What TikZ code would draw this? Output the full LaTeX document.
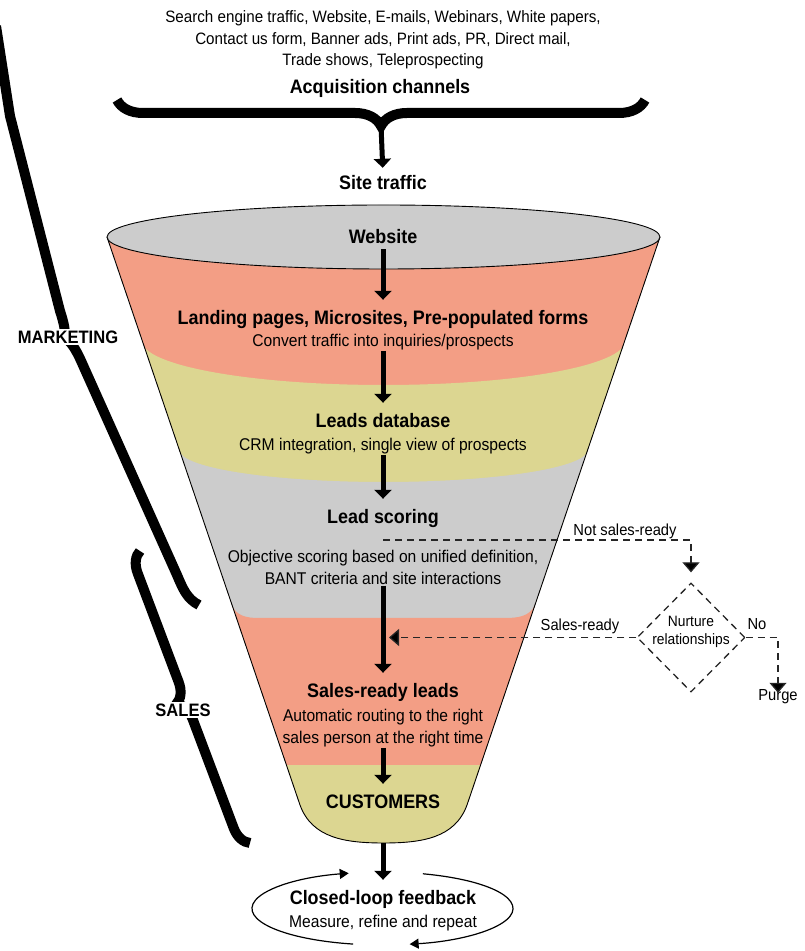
\documentclass[tikz,border=0pt]{standalone}
\usepackage{fontspec}
\setmainfont{Liberation Sans}[FakeStretch=0.92]
\usetikzlibrary{shapes.geometric, arrows.meta, positioning,
  decorations.pathreplacing}
\definecolor{salmon}{HTML}{F39E85}
\definecolor{sand}{HTML}{DCD691}
\definecolor{ash}{HTML}{CCCCCC}
\tikzstyle{head}=[font=\fontsize{19.5}{22}\selectfont\bfseries,anchor=base,
  inner sep=1pt,text height=14pt,text depth=4pt]
\tikzstyle{sub}=[font=\fontsize{17}{21.5}\selectfont,anchor=base,align=center,inner sep=1pt]
\tikzstyle{note}=[font=\fontsize{16}{19}\selectfont,anchor=base,inner sep=1pt]
\tikzstyle{side}=[font=\fontsize{18}{20}\selectfont\bfseries,fill=white,inner sep=2pt]
\tikzstyle{flow}=[line width=5pt,-{Triangle[width=17pt,length=9pt]},shorten >=10pt]
\tikzstyle{maybe}=[line width=1.3pt,draw=black!85,dash pattern=on 7pt off 5pt,
  -{Triangle[width=17pt,length=10pt,fill=black]}]
\tikzstyle{decision}=[diamond,draw=black!85,line width=1.3pt,dash pattern=on 7pt off 5pt,
  minimum width=108pt,minimum height=109pt,inner sep=0pt]
\tikzstyle{bracket}=[decorate,decoration={brace,amplitude=20pt},line width=10pt]
\tikzstyle{thickbar}=[line width=10pt,line join=round]
\tikzstyle{cycleline}=[line width=1.2pt,-{Triangle[width=10pt,length=9pt]}]

\begin{document}
\begin{tikzpicture}[x=1pt,y=1pt]
  \clip (0,0) rectangle (805,951);
  \node[sub,font=\fontsize{16.5}{21.5}\selectfont] (sources) at (383,885)
    {Search engine traffic, Website, E-mails, Webinars, White papers,\\
     Contact us form, Banner ads, Print ads, PR, Direct mail,\\
     Trade shows, Teleprospecting};
  \node[head] (acq) at (380,857) {Acquisition channels};
  \draw[bracket,decoration={amplitude=26pt}] (645,851) -- (117,851);
  \coordinate (fan) at (381,826);
  \node[head] (traffic) at (383,761) {Site traffic};
  \draw[flow,shorten >=7pt] (fan) -- (traffic.north);

  % funnel
  \begin{scope}
    \clip (107,714) -- (300,146) .. controls (312,113) and (345,108) .. (383.5,108)
      .. controls (422,108) and (455,113) .. (467,146) -- (660,714) -- cycle;
    \fill[salmon] (0,0) rectangle (805,760);
    \fill[sand] (0,610) -- (142,610)
      arc[start angle=180,end angle=360,x radius=241.5,y radius=44]
      -- (805,610) |- (0,0) -- cycle;
    \fill[ash] (0,501) -- (179.4,501)
      arc[start angle=180,end angle=360,x radius=204.1,y radius=32]
      -- (805,501) |- (0,0) -- cycle;
    \fill[salmon] (0,346) -- (232,346) to[out=-70,in=180] (258,333) -- (505,333)
      to[out=0,in=-115] (535,346) -- (805,346) |- (0,0) -- cycle;
    \fill[sand] (0,0) rectangle (805,186);
  \end{scope}
  \draw[line width=0.9pt] (107,714) -- (300,146) .. controls (312,113) and (345,108) .. (383.5,108)
    .. controls (422,108) and (455,113) .. (467,146) -- (660,714);
  \filldraw[fill=ash,line width=0.9pt] (383.5,714) ellipse[x radius=276.5,y radius=32];

  \node[head] (website) at (383,707) {Website};
  \node[head] (landing) at (383,626) {Landing pages, Microsites, Pre-populated forms};
  \node[sub,below=2.5pt of landing] (convert) {Convert traffic into inquiries/prospects};
  \node[head] (leads) at (383,523) {Leads database};
  \node[sub,below=3.5pt of leads] (crm) {CRM integration, single view of prospects};
  \node[head] (scoring) at (383,427) {Lead scoring};
  \node[sub,below=20pt of scoring] (objective)
    {Objective scoring based on unified definition,\\BANT criteria and site interactions};
  \node[head] (salesready) at (383,253) {Sales-ready leads};
  \node[sub,below=5pt of salesready] (routing)
    {Automatic routing to the right\\sales person at the right time};
  \node[head] (customers) at (383,142) {CUSTOMERS};
  \coordinate (fbot) at (383,108);
  \node[head] (closed) at (383,46) {Closed-loop feedback};
  \node[sub,below=3.5pt of closed] (measure) {Measure, refine and repeat};

  \draw[flow] (website.south) -- (landing.north);
  \draw[flow] (convert.south) -- (leads.north);
  \draw[flow] (crm.south) -- (scoring.north);
  \draw[flow] (objective.south) -- (salesready.north);
  \draw[flow] (routing.south) -- (customers.north);
  \draw[flow] (fbot) -- (closed.north);

  % nurture loop
  \coordinate (split) at (383,411);
  \coordinate (merge) at (389,313.5);
  \node[decision] (nurture) at (691,313.5) {};
  \node[note,font=\fontsize{15}{18.5}\selectfont,align=center] (nurturetext) at (691,306)
    {Nurture\\relationships};
  \node[note] (notready) at (625,415) {Not sales-ready};
  \node[note] (ready) at (580,320) {Sales-ready};
  \node[note] (no) at (757,321) {No};
  \node[note] (purge) at (778,250) {Purge};
  \draw[maybe,shorten >=10pt] (split) -| (nurture.north);
  \draw[maybe] (nurture.west) -- (merge);
  \draw[maybe,shorten >=-4pt] (nurture.east) -| (purge.north);

  % marketing / sales
  \draw[thickbar] (199,346) .. controls (187,352) and (183,362) .. (177,376) -- (82,588)
    .. controls (75,604) and (70,610) .. (64,614) .. controls (66,618) and (64,628) .. (60,640)
    -- (10,835) -- (-4,925);
  \node[side] (marketing) at (68,614) {MARKETING};
  \draw[bracket] (250,108) -- (140,400);
  \node[side] (sales) at (183,241) {SALES};

  \draw[cycleline] (382.5,42.5) ++(257:130.5 and 36.5)
    arc[start angle=257,end angle=105,x radius=130.5,y radius=36.5];
  \draw[cycleline] (382.5,42.5) ++(72:130.5 and 36.5)
    arc[start angle=72,end angle=-78,x radius=130.5,y radius=36.5];
\end{tikzpicture}
\end{document}
